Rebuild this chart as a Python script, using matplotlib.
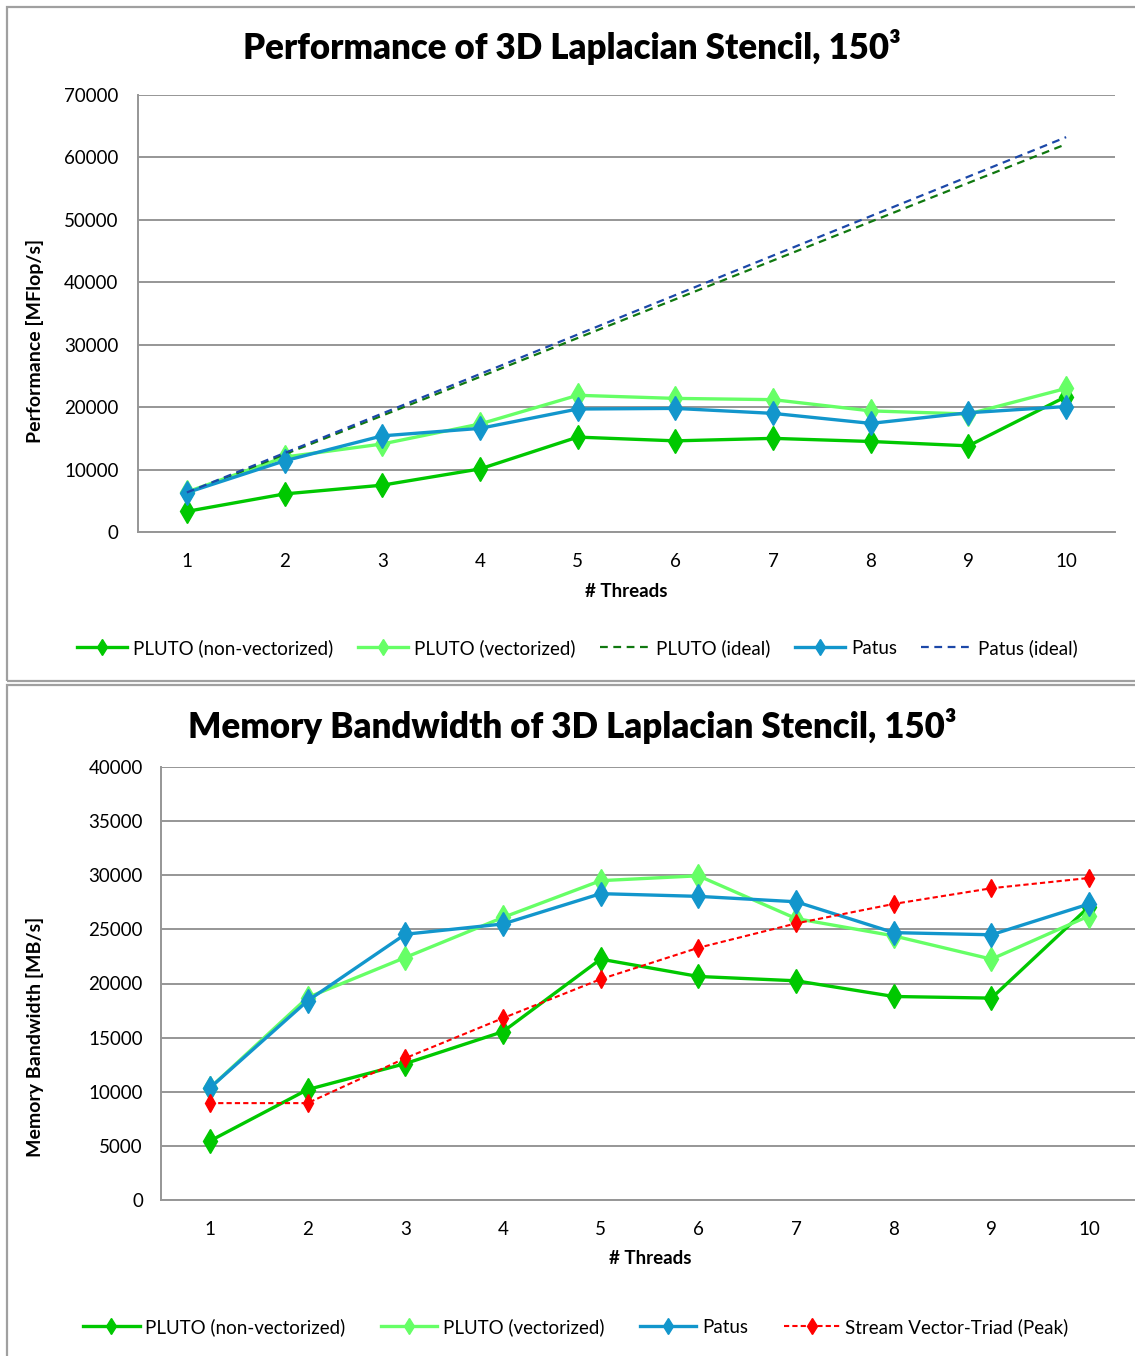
import matplotlib
matplotlib.use("Agg")
import matplotlib.pyplot as plt
from matplotlib.patches import Rectangle
from matplotlib.lines import Line2D

plt.rcParams['font.family'] = ['Lato', 'DejaVu Sans']

threads = [1, 2, 3, 4, 5, 6, 7, 8, 9, 10]

# Performance [MFlop/s]
perf_pluto_nonvec = [3300, 6100, 7500, 10100, 15200, 14600, 15000, 14500, 13800, 21700]
perf_pluto_vec = [6400, 12000, 14100, 17300, 21900, 21400, 21200, 19400, 18900, 23000]
perf_pluto_ideal = [6210, 12430, 18640, 24850, 31070, 37280, 43490, 49700, 55920, 62130]
perf_patus = [6300, 11400, 15400, 16600, 19700, 19800, 19000, 17400, 19100, 20100]
perf_patus_ideal = [6330, 12650, 18980, 25300, 31630, 37950, 44280, 50600, 56930, 63250]

# Memory bandwidth [MB/s]
bw_pluto_nonvec = [5450, 10200, 12600, 15550, 22250, 20650, 20250, 18800, 18650, 27100]
bw_pluto_vec = [10350, 18700, 22400, 26100, 29500, 29950, 26000, 24400, 22250, 26250]
bw_patus = [10350, 18400, 24550, 25500, 28300, 28050, 27550, 24700, 24500, 27350]
bw_stream = [8950, 8950, 13100, 16800, 20400, 23300, 25550, 27350, 28800, 29750]

perf_yticks = [0, 10000, 20000, 30000, 40000, 50000, 60000, 70000]
bw_yticks = [0, 5000, 10000, 15000, 20000, 25000, 30000, 35000, 40000]

C_NONVEC = '#00C800'
C_VEC = '#66FF66'
C_PATUS = '#1296CC'
C_PLUTO_IDEAL = '#107810'
C_PATUS_IDEAL = '#1C48A8'
C_STREAM = '#FF0000'
GRID = '#969696'

W, H = 1135, 1356
fig = plt.figure(figsize=(W / 100, H / 100), dpi=100)


def fx(px):
    return px / W


def fy(py):
    return 1 - py / H


# panel frames
for (x0, y0, x1, y1) in [(7, 7, 1160, 681), (7, 685, 1160, 1380)]:
    fig.patches.append(Rectangle((fx(x0), fy(y1)), fx(x1 - x0), (y1 - y0) / H,
                                 transform=fig.transFigure, fill=False,
                                 edgecolor='#a0a0a0', linewidth=1.6, zorder=0))


def style_axes(ax, yticks, ypad):
    ax.set_xlim(0.5, 10.5)
    ax.set_ylim(yticks[0], yticks[-1])
    ax.set_yticks(yticks)
    ax.set_xticks(threads)
    ax.grid(axis='y', color=GRID, linewidth=1.4)
    ax.set_axisbelow(True)
    for s in ['top', 'right']:
        ax.spines[s].set_visible(False)
    for s in ['left', 'bottom']:
        ax.spines[s].set_color(GRID)
        ax.spines[s].set_linewidth(1.4)
    ax.tick_params(length=0, labelsize=13.5, colors='black')
    ax.tick_params(axis='y', pad=ypad)
    ax.tick_params(axis='x', pad=15)


mk = dict(marker='d', markersize=12.5, linewidth=2.4)
dash = (0, (3.5, 2.5))

# Top: performance
ax1 = fig.add_axes([fx(138), fy(532), fx(1115 - 138), (532 - 95) / H])
style_axes(ax1, perf_yticks, 14)
ax1.plot(threads, perf_pluto_nonvec, color=C_NONVEC, label='PLUTO (non-vectorized)', **mk)
ax1.plot(threads, perf_pluto_vec, color=C_VEC, label='PLUTO (vectorized)', **mk)
ax1.plot(threads, perf_pluto_ideal, color=C_PLUTO_IDEAL, linestyle=dash,
         linewidth=1.6, label='PLUTO (ideal)')
ax1.plot(threads, perf_patus, color=C_PATUS, label='Patus', **mk)
ax1.plot(threads, perf_patus_ideal, color=C_PATUS_IDEAL, linestyle=dash,
         linewidth=1.6, label='Patus (ideal)')

fig.text(fx(572), fy(47), 'Performance of 3D Laplacian Stencil, 150³', ha='center',
         va='center', fontsize=25, fontweight='heavy')
fig.text(fx(35), fy(341), 'Performance [MFlop/s]', rotation=90, ha='center',
         va='center', fontsize=14, fontweight='bold')
fig.text(fx(626), fy(591), '# Threads', ha='center', va='center', fontsize=13.5,
         fontweight='bold')

h_top = [
    Line2D([], [], color=C_NONVEC, marker='d', markersize=8, linewidth=2.4),
    Line2D([], [], color=C_VEC, marker='d', markersize=8, linewidth=2.4),
    Line2D([], [], color=C_PLUTO_IDEAL, linestyle=dash, linewidth=1.6),
    Line2D([], [], color=C_PATUS, marker='d', markersize=8, linewidth=2.4),
    Line2D([], [], color=C_PATUS_IDEAL, linestyle=dash, linewidth=1.6),
]
fig.legend(h_top, ['PLUTO (non-vectorized)', 'PLUTO (vectorized)', 'PLUTO (ideal)',
                   'Patus', 'Patus (ideal)'],
           loc='center', bbox_to_anchor=(fx(577), fy(648)), ncol=5, frameon=False,
           fontsize=13.5, handlelength=2.7, handletextpad=0.3, columnspacing=1.3)

# Bottom: memory bandwidth
ax2 = fig.add_axes([fx(161), fy(1200), fx(1138 - 161), (1200 - 767) / H])
style_axes(ax2, bw_yticks, 13)
ax2.plot(threads, bw_pluto_nonvec, color=C_NONVEC, label='PLUTO (non-vectorized)', **mk)
ax2.plot(threads, bw_pluto_vec, color=C_VEC, label='PLUTO (vectorized)', **mk)
ax2.plot(threads, bw_patus, color=C_PATUS, label='Patus', **mk)
ax2.plot(threads, bw_stream, color=C_STREAM, linestyle=(0, (2.5, 1.5)), linewidth=1.5,
         marker='d', markersize=9, label='Stream Vector-Triad (Peak)')

fig.text(fx(572), fy(726), 'Memory Bandwidth of 3D Laplacian Stencil, 150³', ha='center',
         va='center', fontsize=25, fontweight='heavy')
fig.text(fx(35), fy(1037), 'Memory Bandwidth [MB/s]', rotation=90, ha='center',
         va='center', fontsize=14, fontweight='bold')
fig.text(fx(650), fy(1259), '# Threads', ha='center', va='center', fontsize=13.5,
         fontweight='bold')

h_bot = [
    Line2D([], [], color=C_NONVEC, marker='d', markersize=8, linewidth=2.4),
    Line2D([], [], color=C_VEC, marker='d', markersize=8, linewidth=2.4),
    Line2D([], [], color=C_PATUS, marker='d', markersize=8, linewidth=2.4),
    Line2D([], [], color=C_STREAM, linestyle=(0, (2.5, 1.5)), linewidth=1.5,
           marker='d', markersize=8),
]
fig.legend(h_bot, ['PLUTO (non-vectorized)', 'PLUTO (vectorized)', 'Patus',
                   'Stream Vector-Triad (Peak)'],
           loc='center', bbox_to_anchor=(fx(576), fy(1327)), ncol=4, frameon=False,
           fontsize=13.5, handlelength=3.0, handletextpad=0.3, columnspacing=1.9)

fig.savefig('out.png', dpi=100)
